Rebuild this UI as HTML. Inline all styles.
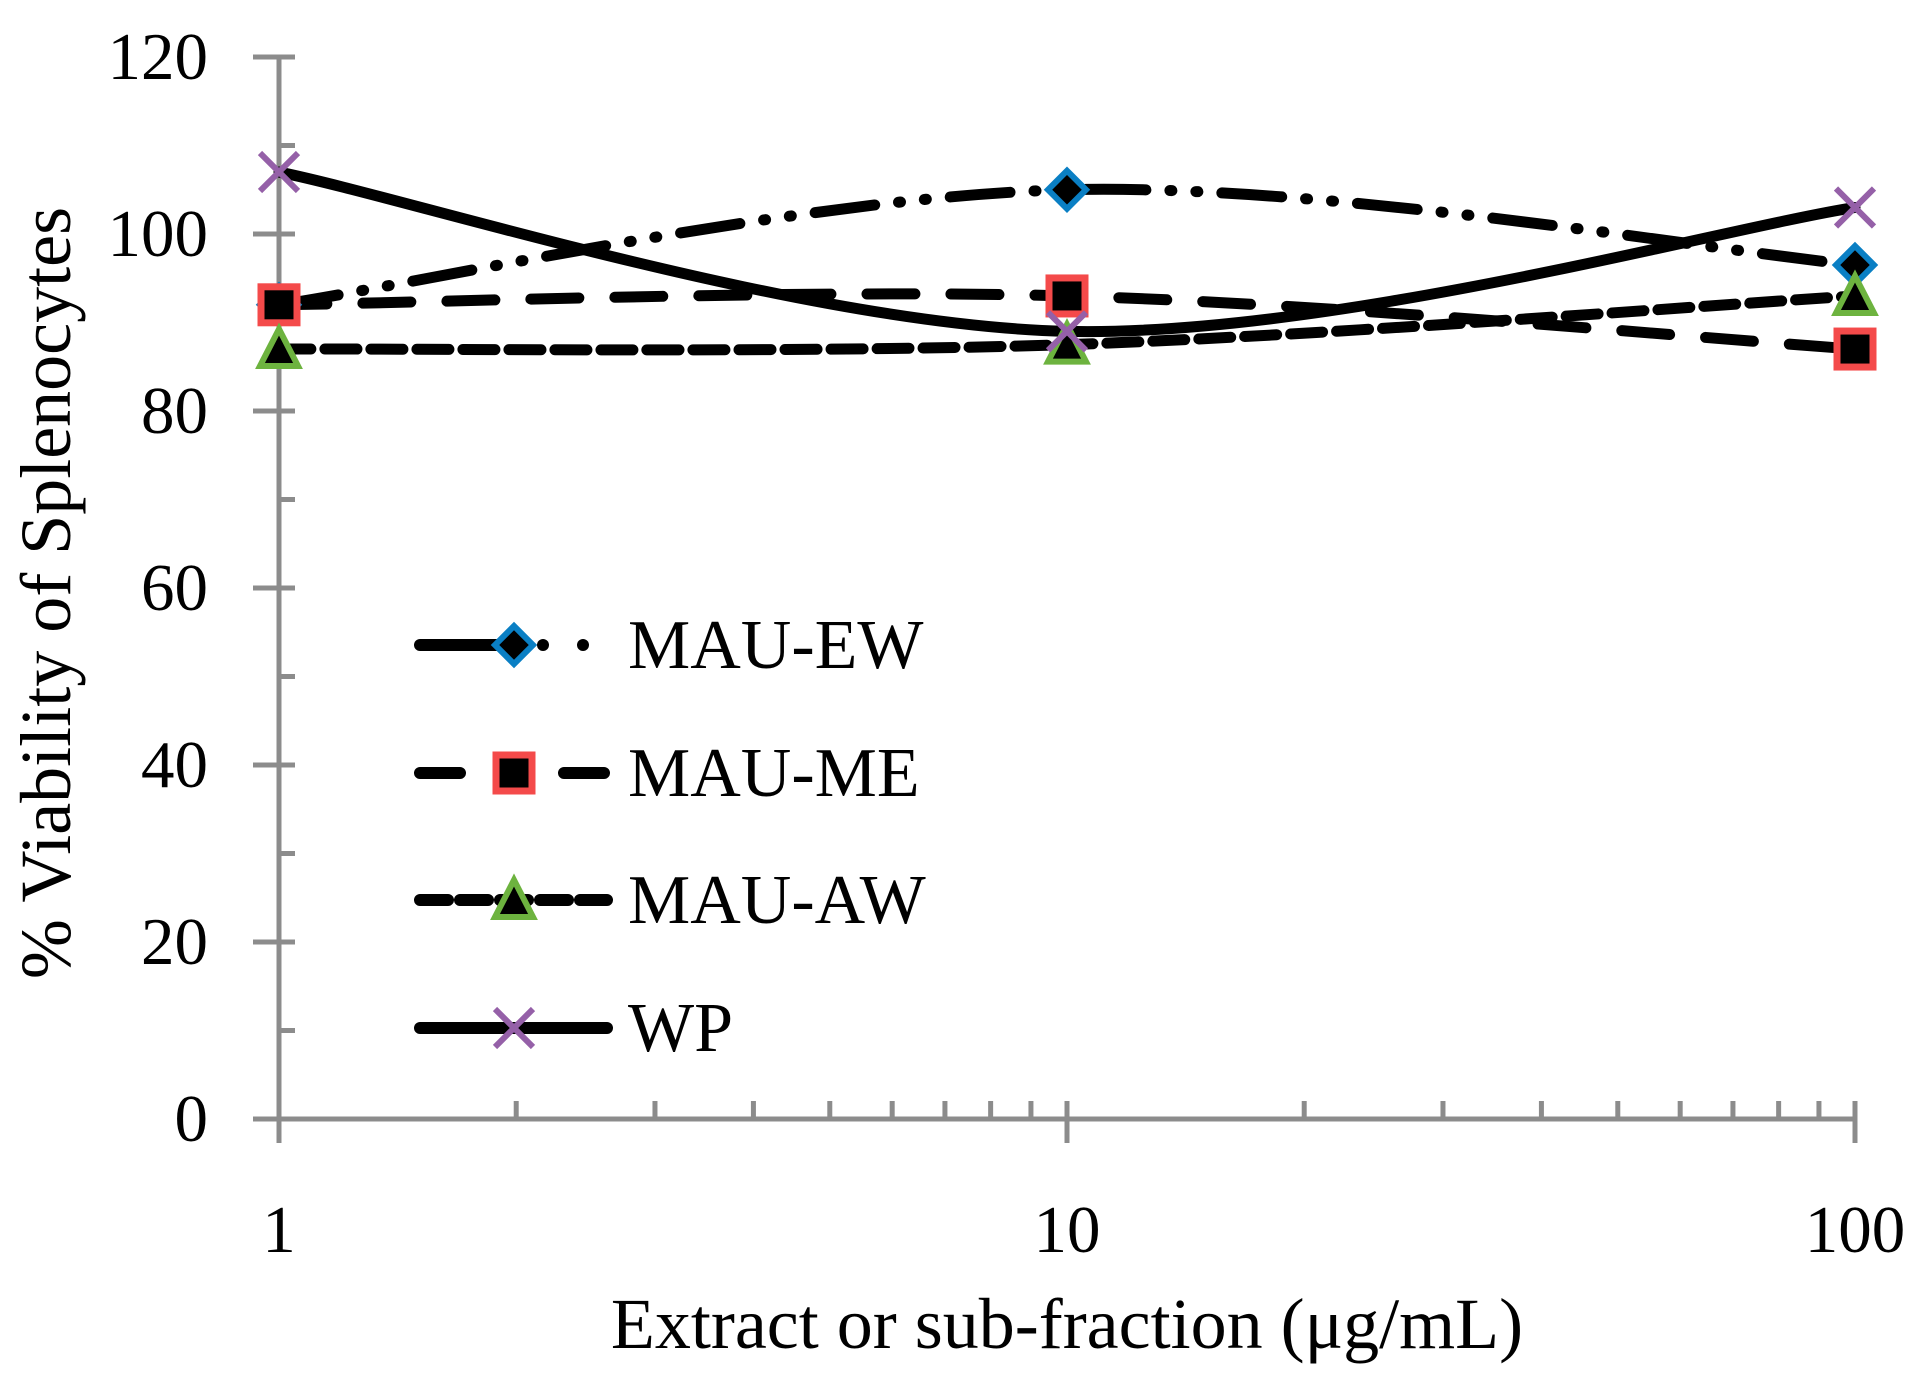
<!DOCTYPE html>
<html><head><meta charset="utf-8"><style>
html,body{margin:0;padding:0;background:#fff;}
svg{display:block;font-family:"Liberation Serif",serif;}
</style></head><body>
<svg id="chart" width="1926" height="1397" viewBox="0 0 1926 1397">
<g id="axes"></g>
<g id="series"></g>
<g id="legend"></g>
<text x="70" y="593" font-size="72" text-anchor="middle" transform="rotate(-90 70 593)">% Viability of Splenocytes</text>
<text x="1067" y="1348" font-size="72" text-anchor="middle">Extract or sub-fraction (μg/mL)</text>
</svg>
<script>
const xValues = [1, 10, 100];
const seriesNames = ["MAU-EW", "MAU-ME", "MAU-AW", "WP"];
const ewValues = [92, 105, 96.5];
const meValues = [92, 93, 87];
const awValues = [87, 87.5, 93];
const wpValues = [107, 89, 103];
const yTicks = [0, 20, 40, 60, 80, 100, 120];
const xTickLabels = ["1", "10", "100"];

const NS = "http://www.w3.org/2000/svg";
const X0 = 279, X1 = 1855, Y0 = 1119, YTOP = 57;
function xs(v){ return X0 + Math.log10(v) / 2 * (X1 - X0); }
function ys(v){ return Y0 - v / 120 * (Y0 - YTOP); }
function mk(tag, attrs, parent){ const e = document.createElementNS(NS, tag); for (const k in attrs) e.setAttribute(k, attrs[k]); parent.appendChild(e); return e; }

const axes = document.getElementById('axes');
const grey = "#8c8c8c";
let el = mk('line', {x1:X0, y1:YTOP, x2:X0, y2:Y0+24, stroke:grey, 'stroke-width':5}, axes);


el = mk('line', {x1:253, y1:Y0, x2:X1, y2:Y0, stroke:grey, 'stroke-width':5}, axes);


yTicks.forEach(t => {
  const y = ys(t);
  const tk = mk('line', {x1:253, y1:y, x2:295, y2:y, stroke:grey, 'stroke-width':5}, axes);
  
  
  const lb = mk('text', {x:208, y:y+22, 'font-size':67, 'text-anchor':'end'}, axes);
  lb.textContent = t;
  
  
  if (t < 120) {
    const m = ys(t + 10);
    const mt = mk('line', {x1:X0, y1:m, x2:295, y2:m, stroke:grey, 'stroke-width':5}, axes);
    
    
  }
});
xTickLabels.forEach((s, i) => {
  const v = Math.pow(10, i);
  const x = xs(v);
  const tk = mk('line', {x1:x, y1:Y0-18, x2:x, y2:Y0+24, stroke:grey, 'stroke-width':5}, axes);
  
  
  const lb = mk('text', {x:x, y:1252, 'font-size':67, 'text-anchor':'middle'}, axes);
  lb.textContent = s;
  
  
  if (i < 2) for (let k = 2; k <= 9; k++) {
    const mx = xs(v * k);
    const mt = mk('line', {x1:mx, y1:Y0-18, x2:mx, y2:Y0, stroke:grey, 'stroke-width':5}, axes);
    
    
  }
});

function smoothPath(pts){
  let d = `M${pts[0][0]},${pts[0][1]}`;
  for (let i = 0; i < pts.length - 1; i++) {
    const p0 = pts[i-1] || pts[i], p1 = pts[i], p2 = pts[i+1], p3 = pts[i+2] || p2;
    const t = 1/3;
    const c1 = [p1[0] + (p2[0]-p0[0])*t/2, p1[1] + (p2[1]-p0[1])*t/2];
    const c2 = [p2[0] - (p3[0]-p1[0])*t/2, p2[1] - (p3[1]-p1[1])*t/2];
    d += ` C${c1[0]},${c1[1]} ${c2[0]},${c2[1]} ${p2[0]},${p2[1]}`;
  }
  return d;
}
const dashes = ["60 24 2 24 2 24", "48 36", "32 14", "none"];
const legendDashes = ["none", "40 104", "28 12", "none"];
const allVals = [ewValues, meValues, awValues, wpValues];
const keys = ["ew", "me", "aw", "wp"];
function marker(kind, x, y, parent){
  let m;
  if (kind === 0) m = mk('polygon', {points:`${x},${y-19} ${x+19},${y} ${x},${y+19} ${x-19},${y}`, fill:'#000', stroke:'#0a7fc4', 'stroke-width':6}, parent);
  else if (kind === 1) m = mk('rect', {x:x-18, y:y-18, width:36, height:36, fill:'#000', stroke:'#f44a4a', 'stroke-width':7}, parent);
  else if (kind === 2) m = mk('polygon', {points:`${x},${y-20} ${x+19},${y+17} ${x-19},${y+17}`, fill:'#000', stroke:'#6db33f', 'stroke-width':6}, parent);
  else { m = mk('path', {d:`M${x-19},${y-19} L${x+19},${y+19} M${x+19},${y-19} L${x-19},${y+19}`, stroke:'#9560a8', 'stroke-width':6, fill:'none'}, parent); }
  return m;
}
const sg = document.getElementById('series');
allVals.forEach((vals, si) => {
  const pts = vals.map((v, i) => [xs(xValues[i]), ys(v)]);
  const p = mk('path', {d:smoothPath(pts), fill:'none', stroke:'#000', 'stroke-width':11, 'stroke-linecap':'round', 'stroke-dasharray':dashes[si]}, sg);
  
  
});
allVals.forEach((vals, si) => {
  vals.forEach((v, i) => {
    const m = marker(si, xs(xValues[i]), ys(v), sg);
    
    
  });
});
const lg = document.getElementById('legend');
const legY = [645, 773, 900, 1028];
seriesNames.forEach((n, si) => {
  const y = legY[si];
  const l = mk('line', {x1:420, y1:y, x2:607, y2:y, stroke:'#000', 'stroke-width':12, 'stroke-linecap':'round', 'stroke-dasharray':legendDashes[si]}, lg);
  if (si === 0) { l.setAttribute('x2', 514); mk('circle',{cx:543,cy:y,r:6},lg); mk('circle',{cx:583,cy:y,r:6},lg); }
  
  
  const m = marker(si, 514, y, lg);
  
  
  const t = mk('text', {x:628, y:y+23, 'font-size':70}, lg);
  t.textContent = n;
  
  
});
</script>
</body></html>
